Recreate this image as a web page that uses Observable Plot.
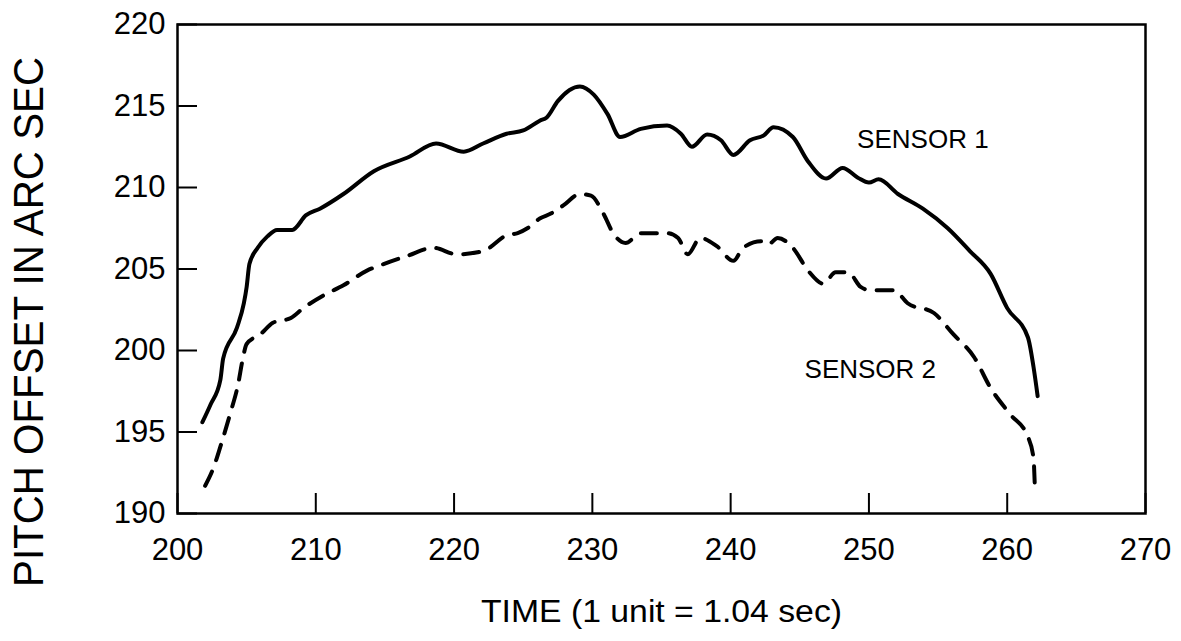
<!DOCTYPE html>
<html><head><meta charset="utf-8">
<script src="https://cdn.jsdelivr.net/npm/d3@7"></script>
<script src="https://cdn.jsdelivr.net/npm/@observablehq/plot@0.6"></script>
<style>
html,body{margin:0;padding:0;background:#fff;}
</style>
</head><body><div id="chart"></div>
<script>
const sensor1Time  = [201.8,202.4,203.1,203.3,204.3,204.8,205.0,205.2,205.8,206.5,207.2,208.3,209.3,210.3,212.0,214.2,216.8,218.7,220.7,222.1,223.8,225.0,226.2,226.7,227.5,229.1,230.1,231.1,232.0,233.5,235.4,236.4,237.2,238.3,239.3,240.2,241.4,242.4,243.1,244.5,245.6,246.9,248.1,249.2,250.0,250.7,252.1,253.9,255.7,257.3,258.8,260.0,261.5,261.9,262.2];
const sensor1Pitch = [195.6,196.7,198.2,199.5,201.4,202.9,203.9,205.3,206.3,207.0,207.4,207.4,208.3,208.7,209.6,211.0,211.9,212.7,212.2,212.7,213.3,213.5,214.1,214.3,215.3,216.2,215.7,214.5,213.1,213.6,213.8,213.3,212.5,213.25,212.9,212.0,212.9,213.2,213.7,213.1,211.6,210.55,211.2,210.6,210.3,210.5,209.6,208.7,207.5,206.1,204.7,202.6,200.8,199.0,197.2];

const sensor2Time  = [202.0,202.6,203.1,203.8,204.4,204.7,205.0,206.0,206.9,208.2,209.1,210.6,212.0,213.7,214.9,216.6,218.5,220.2,222.1,223.9,224.6,225.3,226.2,227.0,227.9,229.1,229.9,230.8,231.5,232.4,233.5,235.4,236.2,236.9,237.8,239.0,240.2,240.9,242.2,242.7,243.4,244.5,245.6,246.7,247.6,248.5,249.4,250.1,251.8,252.8,254.7,256.1,257.6,258.8,260.2,261.5,261.9,262.0];
const sensor2Pitch = [191.7,192.8,194.1,196.1,198.0,199.4,200.4,201.0,201.7,202.0,202.6,203.4,204.0,204.9,205.3,205.8,206.3,205.9,206.1,207.1,207.2,207.5,208.1,208.4,208.9,209.6,209.5,208.4,207.2,206.6,207.2,207.2,206.9,205.9,206.9,206.4,205.5,206.3,206.7,206.5,206.9,206.3,204.9,204.1,204.8,204.8,203.9,203.7,203.7,202.9,202.3,201.0,199.6,197.7,196.1,194.7,193.4,191.6];

const xTicks = [200,210,220,230,240,250,260,270];
const yTicks = [190,195,200,205,210,215,220];
const xTitle = "TIME (1 unit = 1.04 sec)";
const yTitle = "PITCH OFFSET IN ARC SEC";
const seriesNames = ["SENSOR 1","SENSOR 2"];
const labelTime  = [253.9, 250.1];
const labelPitch = [212.4, 198.3];

const s1 = sensor1Time.map((t,i)=>({time:t, pitch:sensor1Pitch[i]}));
const s2 = sensor2Time.map((t,i)=>({time:t, pitch:sensor2Pitch[i]}));
const labels = seriesNames.map((n,i)=>({name:n, time:labelTime[i], pitch:labelPitch[i]}));

const font = "'Liberation Sans', Arial, Helvetica, sans-serif";

const chart = Plot.plot({
  width:1181, height:641,
  marginLeft:177, marginRight:36, marginTop:24, marginBottom:128,
  style:{fontFamily:font, background:"#fff", color:"#000"},
  x:{domain:[200,270]},
  y:{domain:[190,220]},
  marks:[
    Plot.frame({stroke:"#000", strokeWidth:2.5}),
    Plot.axisX({ticks:xTicks, anchor:"bottom", tickSize:-20, tickPadding:44, fontSize:31, strokeWidth:2, label:null, tickFormat:d=>String(d)}),
    Plot.axisY({ticks:yTicks, anchor:"left", tickSize:-20, tickPadding:32, fontSize:31, strokeWidth:2, label:null, tickFormat:d=>String(d)}),
    Plot.line(s1, {x:"time", y:"pitch", stroke:"#000", strokeWidth:4, curve:"monotone-x", strokeLinecap:"round", strokeLinejoin:"round"}),
    Plot.line(s2, {x:"time", y:"pitch", stroke:"#000", strokeWidth:4, curve:"monotone-x", strokeDasharray:"16,12", strokeLinecap:"round", strokeLinejoin:"round"}),
    Plot.text(labels, {x:"time", y:"pitch", text:"name", fontSize:26, lineAnchor:"bottom", textAnchor:"middle", fill:"#000"}),
    Plot.text([xTitle], {frameAnchor:"bottom", lineAnchor:"bottom", textAnchor:"middle", dy:108, fontSize:31, fill:"#000"}),
    Plot.text([yTitle], {frameAnchor:"left", rotate:-90, lineAnchor:"bottom", textAnchor:"middle", dx:-135, dy:53, fontSize:42, fill:"#000"})
  ]
});
document.getElementById("chart").appendChild(chart);
d3.select(chart).selectAll("text").each(function(){
  if (this.textContent === yTitle) d3.select(this).attr("textLength", 530).attr("lengthAdjust","spacingAndGlyphs");
  if (this.textContent === xTitle) d3.select(this).attr("textLength", 361).attr("lengthAdjust","spacingAndGlyphs");
});
</script>
</body></html>
